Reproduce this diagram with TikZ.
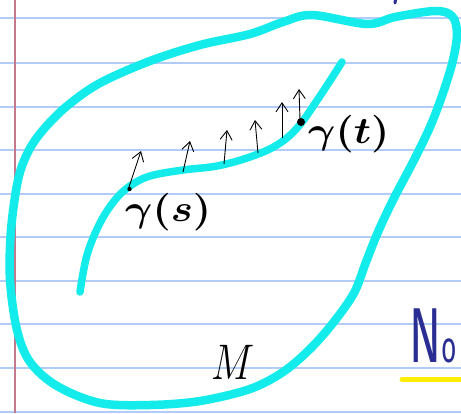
\RequirePackage{fix-cm}
\documentclass[tikz,border=0pt]{standalone}
\usepackage{fontspec}
\newfontfamily\markerfont{Fira Sans}
\usetikzlibrary{arrows.meta}
\definecolor{rule}{RGB}{178,204,248}
\definecolor{margin}{RGB}{196,120,140}
\definecolor{hl}{RGB}{20,236,236}
\definecolor{inkblue}{RGB}{42,45,145}
\definecolor{hiyellow}{RGB}{255,238,0}
\newcommand{\handlbl}[1]{\scalebox{1.67}[1.5]{\fontsize{25}{25}\selectfont\boldmath$#1$}}
\tikzset{
  ruleline/.style={rule, line width=2pt},
  manifold/.style={hl, line width=8.5pt, line cap=round, line join=round},
  vec/.style={black, line width=0.9pt, -{Straight Barb[length=9pt,width=12pt]}},
  lbl/.style={inner sep=0pt},
}
\begin{document}
\begin{tikzpicture}[x=1pt,y=-1pt]
\useasboundingbox (0,0) rectangle (461,413);
\clip (0,0) rectangle (461,413);
\fill[white] (0,0) rectangle (461,413);
% ruled paper
\foreach \yy in {18.3,62.5,106.5,150,193.5,237.3,280.5,324,367.7,411.5}
  \draw[ruleline] (0,\yy) -- (461,\yy);
\draw[margin, line width=1.5pt] (15,0) -- (15,413);
% outer region M
\draw[manifold] plot[smooth cycle, tension=0.55] coordinates {
  (312,15) (367,24) (395,17) (435,11) (452,16) (457,33) (453,60) (443,93)
  (430,127) (413,162) (393,200) (378,232) (366,262) (354,293) (333,323)
  (310,349) (283,372) (250,389) (200,401) (150,405) (100,403) (57,386)
  (30,362) (17,330) (10,280) (11,230) (18,180) (28,152) (43,130) (67,106)
  (100,83) (150,61) (200,45) (250,34) (283,22)};
% inner curve gamma
\draw[manifold, line width=7.5pt] plot[smooth, tension=0.6] coordinates {
  (80,292) (87,255) (100,223) (115,200) (130,186) (150,176) (183,170)
  (217,166) (250,157) (277,145) (298,127) (320,96) (342,62)};
% points
\fill[black] (129.5,189) circle (2.2pt) coordinate (gs);
\fill[black] (301,122) circle (4pt) coordinate (gt);
% vectors
\draw[vec] (129,187) -- (141,151);
\draw[vec] (183,172) -- (190,141);
\draw[vec] (224,164) -- (227,130);
\draw[vec] (258,153) -- (255,120);
\draw[vec] (282,138) -- (282,102);
\draw[vec] (300,120) -- (299,89);
% labels
\node[lbl, anchor=base west] (ls) at (125,221) {\handlbl{\gamma(s)}};
\node[lbl, anchor=base west] (lt) at (308,143) {\handlbl{\gamma(t)}};
\node[inner sep=0pt, anchor=base west, xscale=0.82, font=\fontsize{50}{50}\selectfont] (m) at (211,379) {$M$};
% blue note text
\node[inner sep=0pt, anchor=base west, xscale=0.6, text=inkblue, font=\markerfont\fontsize{78}{78}\selectfont] (no) at (409,362) {N\fontsize{44}{44}\selectfont o};
\draw[hiyellow, line width=5pt, line cap=round] (402,379.5) -- (470,379.5);
\draw[inkblue, line width=3pt, line cap=round] (396,-4) -- (395,3);
\end{tikzpicture}
\end{document}
